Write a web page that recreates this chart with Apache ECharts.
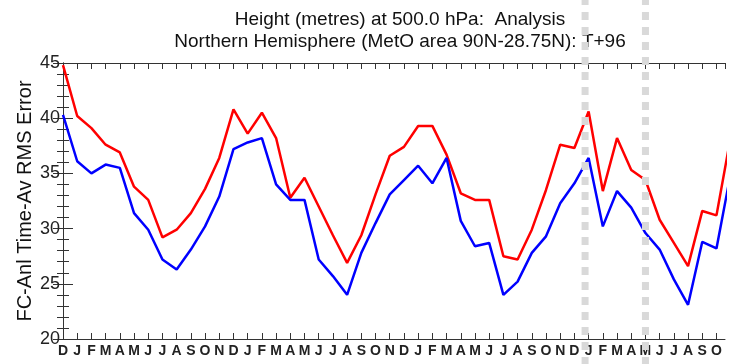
<!DOCTYPE html>
<html>
<head>
<meta charset="utf-8">
<script src="https://cdn.jsdelivr.net/npm/echarts@6/dist/echarts.min.js"></script>
<style>
  html, body { margin: 0; padding: 0; background: #fff; }
  #chart { width: 730px; height: 364px; }
</style>
</head>
<body>
<div id="chart"></div>
<script>
// Month tick labels, Dec through Nov, four seasons' worth
const monthLabels = [
  'D','J','F','M','A','M','J','J','A','S','O','N',
  'D','J','F','M','A','M','J','J','A','S','O','N',
  'D','J','F','M','A','M','J','J','A','S','O','N',
  'D','J','F','M','A','M','J','J','A','S','O','N'
];

// Monthly mean RMS error of 500 hPa height, T+96 forecasts vs analysis (metres)
const redSeries = [
  44.8, 40.2, 39.1, 37.6, 36.9, 33.8, 32.6, 29.2, 29.9, 31.4, 33.6, 36.4,
  40.8, 38.6, 40.5, 38.2, 32.8, 34.6, 32.0, 29.4, 26.9, 29.4, 33.1, 36.6,
  37.4, 39.3, 39.3, 36.7, 33.2, 32.6, 32.6, 27.5, 27.2, 29.9, 33.5, 37.6,
  37.3, 40.6, 33.4, 38.2, 35.3, 34.4, 30.8, 28.7, 26.6, 31.6, 31.2, 38.3
];
const blueSeries = [
  40.3, 36.1, 35.0, 35.8, 35.5, 31.4, 29.9, 27.2, 26.3, 28.1, 30.2, 32.9,
  37.2, 37.8, 38.2, 34.0, 32.6, 32.6, 27.2, 25.7, 24.0, 27.8, 30.5, 33.1,
  34.4, 35.7, 34.1, 36.4, 30.7, 28.4, 28.7, 24.0, 25.2, 27.8, 29.3, 32.3,
  34.1, 36.4, 30.2, 33.4, 31.9, 29.6, 28.1, 25.4, 23.1, 28.8, 28.2, 35.0
];

// Dates (in month-index units) of the system changes marked with grey lines
const changeMarks = [36.75, 41];

const yTicks = { min: 20, max: 45, step: 5 };
const xExtent = { min: 0, max: 46.6 };

const sans = "'Liberation Sans', Arial, sans-serif";
const axisColor = '#333';

const chart = echarts.init(document.getElementById('chart'), null, { renderer: 'canvas' });

const toPairs = arr => arr.map((v, i) => [i, v]);

const xCommon = {
  type: 'value',
  min: xExtent.min,
  max: xExtent.max,
  interval: 1,
  splitLine: { show: false },
  axisLine: { show: true, onZero: false, lineStyle: { color: axisColor, width: 1 } },
  axisTick: { show: true, inside: true, length: 6, lineStyle: { color: axisColor } }
};
const yCommon = {
  type: 'value',
  min: yTicks.min,
  max: yTicks.max,
  interval: yTicks.step,
  splitLine: { show: false },
  axisLine: { show: true, lineStyle: { color: axisColor, width: 1 } },
  axisTick: { show: true, inside: true, length: 10, lineStyle: { color: axisColor } },
  minorTick: { show: true, splitNumber: 5, length: 6, lineStyle: { color: axisColor } }
};

chart.setOption({
  animation: false,
  backgroundColor: '#fff',
  title: {
    text: 'Height (metres) at 500.0 hPa:  Analysis\nNorthern Hemisphere (MetO area 90N-28.75N): T+96',
    left: 395,
    top: 4,
    textAlign: 'center',
    textStyle: {
      fontFamily: sans,
      fontWeight: 'normal',
      fontSize: 19,
      lineHeight: 22,
      color: '#111'
    }
  },
  grid: { left: 63, right: 5, top: 63, bottom: 25, containLabel: false },
  xAxis: [
    Object.assign({}, xCommon, {
      position: 'bottom',
      axisLabel: {
        show: true,
        margin: 5,
        fontFamily: sans,
        fontWeight: 'bold',
        fontSize: 14,
        color: '#222',
        showMaxLabel: false,
        formatter: v => (Number.isInteger(v) ? (monthLabels[v] || '') : '')
      }
    }),
    Object.assign({}, xCommon, {
      position: 'top',
      axisLabel: { show: false }
    })
  ],
  yAxis: [
    Object.assign({}, yCommon, {
      position: 'left',
      name: 'FC-Anl Time-Av RMS Error',
      nameLocation: 'middle',
      nameGap: 28,
      nameMoveOverlap: false,
      nameTextStyle: { fontFamily: sans, fontSize: 20, color: '#111' },
      axisLabel: { show: true, margin: 3, fontFamily: sans, fontSize: 18, color: '#222' }
    }),
    Object.assign({}, yCommon, {
      position: 'right',
      axisLabel: { show: false }
    })
  ],
  series: [
    {
      name: 'red',
      type: 'line',
      data: toPairs(redSeries),
      showSymbol: false,
      clip: false,
      lineStyle: { color: '#ff0000', width: 2.5 },
      itemStyle: { color: '#ff0000' }
    },
    {
      name: 'blue',
      type: 'line',
      data: toPairs(blueSeries),
      showSymbol: false,
      clip: false,
      lineStyle: { color: '#0000ff', width: 2.5 },
      itemStyle: { color: '#0000ff' }
    }
  ]
});

// Grey dashed lines marking system changes, running the full height of the figure
const h = chart.getHeight();
chart.setOption({
  graphic: changeMarks.map(m => {
    const px = chart.convertToPixel({ xAxisIndex: 0 }, m);
    return {
      type: 'line',
      z: 100,
      silent: true,
      shape: { x1: px, y1: -3, x2: px, y2: h },
      style: { stroke: '#d9d9d9', lineWidth: 7, lineDash: [8, 7] }
    };
  })
});
</script>
</body>
</html>
